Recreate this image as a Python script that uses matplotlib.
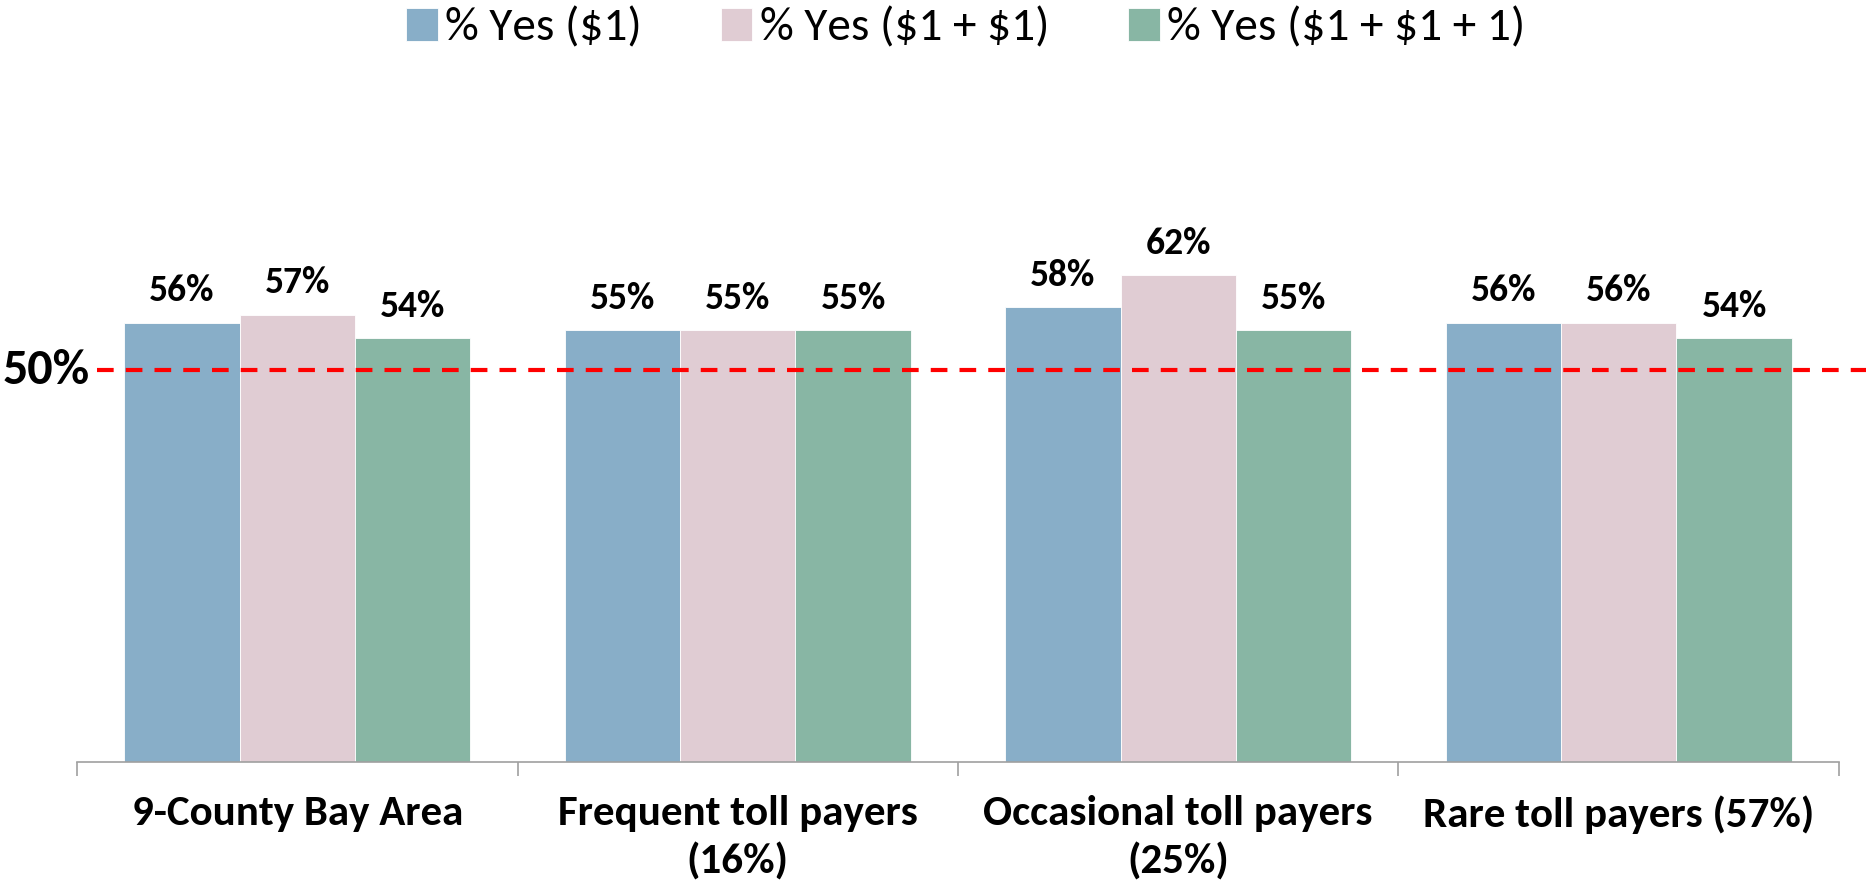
import numpy as np
import matplotlib
matplotlib.use('Agg')
import matplotlib.pyplot as plt
from matplotlib.transforms import blended_transform_factory

plt.rcParams['font.family'] = ['Carlito', 'Lato', 'DejaVu Sans']

# data
categories = ['9-County Bay Area', 'Frequent toll payers\n(16%)',
              'Occasional toll payers\n(25%)', 'Rare toll payers (57%)']
series_names = [r'% Yes (\$1)', r'% Yes (\$1 + \$1)', r'% Yes (\$1 + \$1 + 1)']
yes_1 = [56, 55, 58, 56]
yes_2 = [57, 55, 62, 56]
yes_3 = [54, 55, 55, 54]
threshold = 50

colors = ['#88AEC8', '#E0CCD3', '#88B6A4']

fig = plt.figure(figsize=(18.66, 8.83), dpi=100)
ax = fig.add_axes([0.0413, 0.137, 0.9442, 0.711])

x = np.arange(len(categories))
width = 0.262
for i, (vals, name) in enumerate(zip([yes_1, yes_2, yes_3], series_names)):
    bars = ax.bar(x + (i - 1) * width, vals, width, color=colors[i], label=name,
                  edgecolor='white', linewidth=0.6)
    for b, v in zip(bars, vals):
        ax.annotate('%d%%' % v, (b.get_x() + b.get_width() / 2, v),
                    xytext=(0, 11), textcoords='offset points',
                    ha='center', va='bottom', fontsize=27, fontweight='bold')

ax.set_xlim(-0.5, len(categories) - 0.5)
ax.set_ylim(0, 80)

# dashed 50% line runs past the axes to the right edge
trans = blended_transform_factory(fig.transFigure, ax.transData)
ax.plot([97 / 1866, 1.0], [threshold, threshold], transform=trans, color='#FF0000',
        lw=3, linestyle=(0, (4, 2.9)), clip_on=False, zorder=3)
ax.text(90 / 1866, threshold, '%d%%' % threshold, transform=trans, ha='right',
        va='center', fontsize=36, fontweight='bold')

for s in ['top', 'right', 'left']:
    ax.spines[s].set_visible(False)
ax.spines['bottom'].set_color('#A0A0A0')
ax.spines['bottom'].set_linewidth(1.2)
ax.set_yticks([])

ax.set_xticks(np.arange(-0.5, len(categories)), minor=False)
ax.set_xticklabels([])
ax.tick_params(axis='x', which='major', length=10, width=1.2, color='#A0A0A0')
ax.set_xticks(x, minor=True)
ax.set_xticklabels(categories, minor=True, fontsize=31, fontweight='bold',
                   linespacing=1.32)
ax.tick_params(axis='x', which='minor', length=0, pad=24)

fig.legend(loc='center', bbox_to_anchor=(0.5175, 0.968), ncol=3, frameon=False,
           fontsize=34, handlelength=0.67, handleheight=0.7, handletextpad=0.15,
           columnspacing=1.68)

fig.savefig('out.png', dpi=100)
